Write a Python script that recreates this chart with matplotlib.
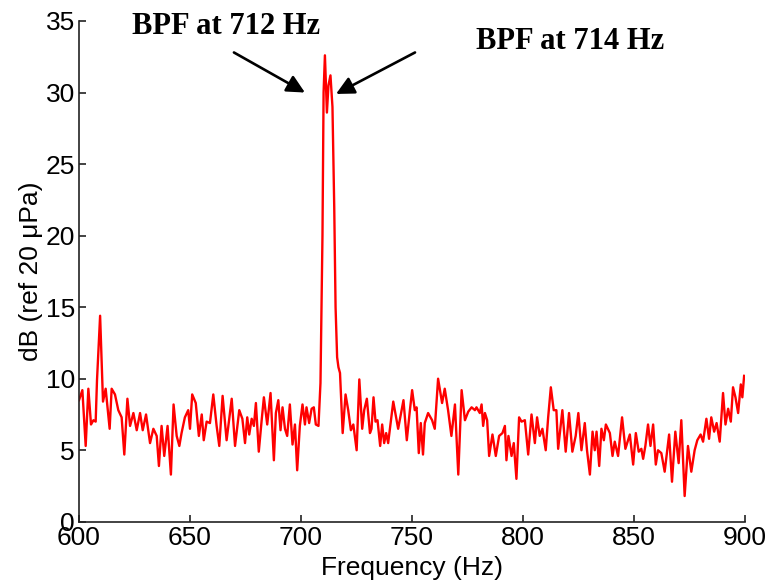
import matplotlib
matplotlib.use("Agg")
import matplotlib.pyplot as plt

freq_hz = [
    600.0, 601.5, 603.0, 604.2, 605.4, 606.5, 607.5, 608.1, 609.5, 610.8,
    612.0, 613.8, 614.7, 616.2, 617.7, 619.2, 620.4, 621.8, 623.0, 624.5,
    626.0, 627.5, 628.7, 630.2, 632.0, 633.5, 635.0, 636.0, 637.2, 638.4,
    639.9, 641.4, 642.6, 644.0, 645.2, 646.2, 647.7, 649.2, 650.0, 651.0,
    652.6, 654.0, 655.3, 656.2, 657.5, 659.0, 660.5,
    662.0, 663.2, 664.7, 666.5, 668.8, 670.3, 672.2, 673.6, 674.8, 675.8,
    676.7, 677.8, 678.8, 679.7, 681.0, 682.3, 683.3, 684.8, 686.3, 687.8,
    688.7, 689.8, 690.8, 691.7, 692.8, 693.8, 695.0, 696.2, 697.3, 698.3,
    699.5, 700.7, 701.8, 702.5, 703.7, 704.8, 705.8, 706.7, 707.9, 708.8,
    709.7, 710.2, 710.8, 711.7, 712.4, 713.3, 714.2, 715.0, 715.6, 716.3,
    716.9, 717.6, 718.8, 720.1,
    721.3, 722.5, 723.6, 725.1, 726.3, 727.6, 728.5, 729.7, 731.1, 731.8,
    732.7, 733.6, 734.5, 735.7, 736.6, 737.5, 738.4, 739.3, 741.6, 743.8,
    746.2, 747.7, 749.1, 750.1, 751.3, 752.1, 753.1, 754.0, 755.0, 755.8,
    757.3, 759.1, 760.3, 761.8, 763.6, 764.8, 766.3, 767.8, 769.4, 770.9,
    772.4, 773.9, 775.4, 776.9, 778.4, 779.1,
    780.6, 781.4, 782.1, 782.9, 783.9, 784.8, 786.3, 787.8, 789.3, 790.8,
    791.9, 792.6, 793.5, 794.9, 795.9, 797.1, 798.3, 799.4, 800.9, 802.4,
    803.9, 805.4, 806.4, 807.6, 808.8, 810.3, 811.4, 812.6, 813.9, 815.1,
    815.9, 817.8, 819.3, 820.8, 822.3, 823.8, 825.0, 826.4, 827.9, 828.9,
    830.2, 831.4, 832.4, 833.2, 834.4, 835.4, 836.5, 837.4, 839.2, 840.4,
    841.4, 842.9, 844.7, 846.2, 848.2, 849.7, 850.9, 852.2, 853.4, 854.2,
    855.2, 856.4, 857.5, 858.7, 859.9, 860.9, 862.4, 863.9, 865.9, 867.2,
    868.7, 870.2, 871.4, 872.9, 874.4, 875.9, 877.4, 878.6, 880.1, 881.2,
    882.7, 883.9, 884.9, 886.2, 887.3, 888.7, 890.2, 891.3, 892.5, 893.7,
    894.7, 895.8, 897.0, 898.2, 898.9, 899.7,
]

level_db = [
    8.5, 9.2, 5.3, 9.3, 6.8, 7.1, 7.0, 9.9, 14.4, 8.4,
    9.3, 6.5, 9.3, 8.9, 7.8, 7.3, 4.7, 8.6, 6.7, 7.6,
    6.4, 7.6, 6.4, 7.5, 5.5, 6.5, 6.0, 3.9, 6.7, 4.6,
    6.7, 3.3, 8.2, 6.0, 5.3, 6.2, 7.3, 7.8, 6.5, 8.9,
    8.3, 6.0, 7.5, 5.7, 7.0, 6.9, 8.9,
    6.7, 5.3, 8.8, 5.7, 8.6, 5.3, 7.8, 7.2, 5.5, 7.3,
    6.1, 7.2, 6.7, 8.3, 4.9, 7.1, 8.7, 6.8, 9.0, 4.3,
    7.6, 8.5, 6.4, 8.0, 6.5, 6.0, 8.2, 5.4, 6.8, 3.6,
    6.7, 8.2, 6.8, 8.0, 6.9, 7.9, 8.0, 6.8, 6.7, 9.7,
    20.0, 30.0, 32.6, 28.6, 30.5, 31.2, 29.0, 22.0, 15.0, 11.5,
    10.8, 10.4, 6.2, 8.9,
    7.8, 6.4, 6.8, 5.0, 9.95, 6.5, 7.8, 8.6, 6.2, 6.5,
    8.7, 7.0, 7.1, 5.3, 6.8, 5.5, 6.2, 5.5, 8.4, 6.5,
    8.5, 5.7, 7.8, 9.2, 7.8, 8.0, 4.8, 6.9, 4.7, 6.9,
    7.6, 7.1, 6.5, 10.0, 8.3, 9.3, 7.8, 6.0, 8.2, 3.3,
    9.2, 7.1, 7.7, 8.0, 7.8, 8.0,
    7.6, 8.2, 6.7, 7.6, 7.1, 4.6, 6.1, 4.6, 6.0, 6.2,
    6.7, 4.3, 6.0, 4.6, 5.5, 3.0, 7.3, 7.0, 7.1, 4.7,
    7.5, 5.5, 7.3, 6.0, 6.5, 5.0, 7.3, 9.4, 7.8, 7.8,
    5.1, 7.8, 4.9, 7.6, 4.9, 6.0, 7.6, 5.0, 6.9, 5.0,
    3.3, 6.3, 5.0, 6.3, 3.9, 6.5, 5.7, 6.8, 6.2, 4.6,
    5.6, 4.6, 7.3, 5.1, 6.1, 4.0, 6.2, 4.9, 5.1, 4.4,
    5.3, 6.8, 5.3, 6.8, 4.0, 5.0, 4.8, 3.5, 6.1, 2.8,
    6.3, 4.1, 7.1, 1.8, 5.3, 3.5, 5.0, 5.7, 6.1, 5.6,
    7.2, 5.8, 7.3, 6.3, 6.9, 5.6, 9.0, 6.8, 7.9, 7.0,
    9.4, 8.7, 7.6, 9.6, 8.7, 10.2,
]

x_ticks = [600, 650, 700, 750, 800, 850, 900]
y_ticks = [0, 5, 10, 15, 20, 25, 30, 35]
label_1 = "BPF at 712 Hz"
label_2 = "BPF at 714 Hz"

fig = plt.figure(figsize=(7.71, 5.83), dpi=100)
ax = fig.add_axes([0.1025, 0.105, 0.8635, 0.859])

ax.plot(freq_hz, level_db, color="#ff0000", lw=1.7, solid_joinstyle="round")

ax.set_xlim(600, 900)
ax.set_ylim(0, 35)
ax.set_xticks(x_ticks)
ax.set_yticks(y_ticks)

for s in ("top", "right"):
    ax.spines[s].set_visible(False)
for s in ("left", "bottom"):
    ax.spines[s].set_linewidth(1.2)
    ax.spines[s].set_color("#222222")

ax.tick_params(direction="in", length=5, width=1.2, color="#222222",
               labelsize=19, pad=3)
for lab in ax.get_xticklabels() + ax.get_yticklabels():
    lab.set_family("Liberation Sans")

ax.set_xlabel("Frequency (Hz)", fontsize=19, family="Liberation Sans", labelpad=4)
ax.set_ylabel("dB (ref 20 \u03bcPa)", fontsize=19, family="Liberation Sans", labelpad=2)

ax.text(666.2, 34.6, label_1, ha="center", va="center", fontsize=22,
        fontweight="bold", family="Liberation Serif", clip_on=False)
ax.text(821.2, 33.6, label_2, ha="center", va="center", fontsize=22,
        fontweight="bold", family="Liberation Serif", clip_on=False)

arrow_kw = dict(arrowstyle="-|>", lw=1.9, color="black", mutation_scale=27,
                shrinkA=0, shrinkB=0)
ax.annotate("", xy=(701.8, 30.0), xytext=(669.8, 32.8), arrowprops=arrow_kw,
            annotation_clip=False)
ax.annotate("", xy=(715.8, 29.9), xytext=(751.4, 32.8), arrowprops=arrow_kw,
            annotation_clip=False)

fig.savefig("out.png", dpi=100)
